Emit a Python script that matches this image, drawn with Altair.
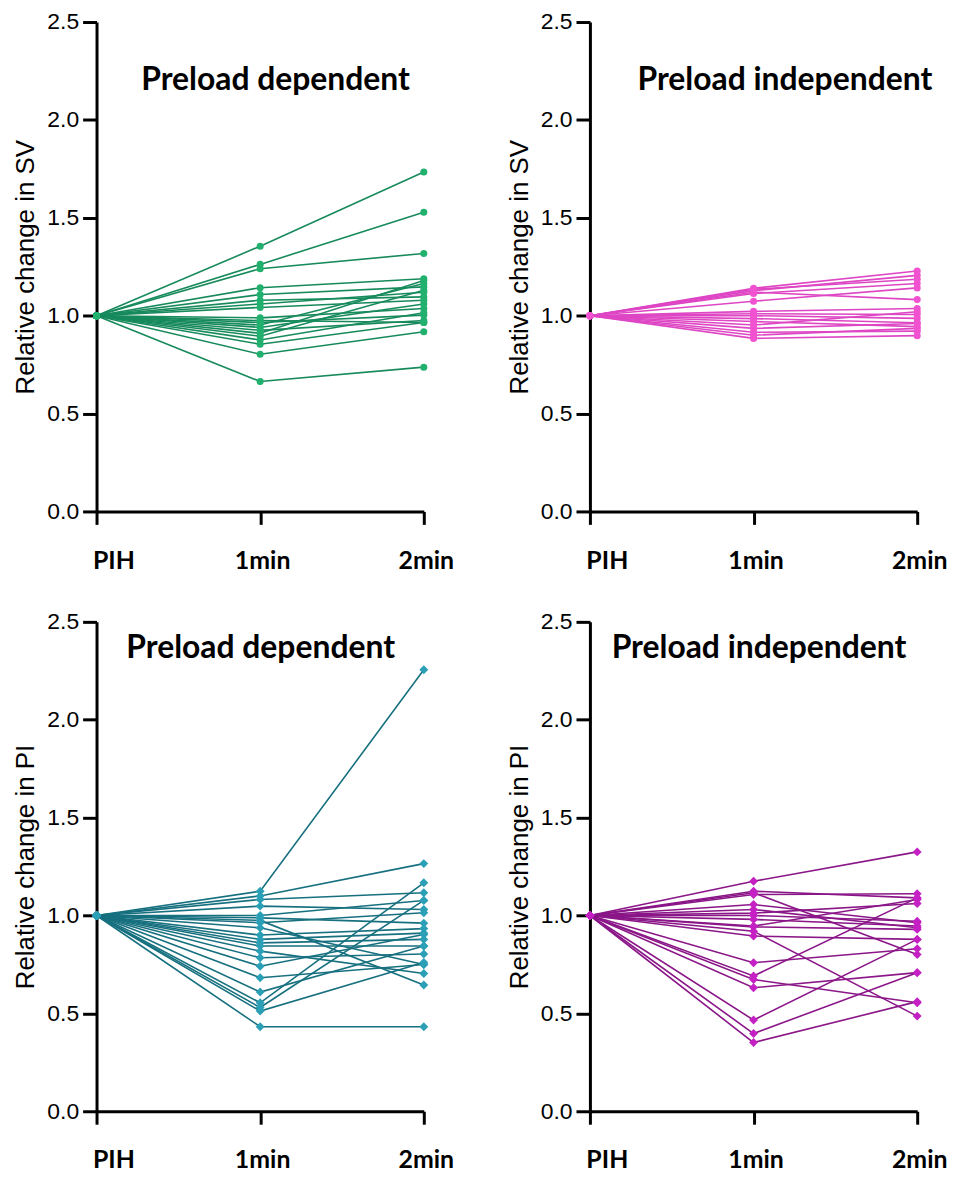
import altair as alt
import pandas as pd

times = ["PIH", "1min", "2min"]
pih_value = 1.0
y_ticks = [0.0, 0.5, 1.0, 1.5, 2.0, 2.5]

# Relative change in SV - preload dependent (1 min, 2 min)
sv_dep_1 = [1.355, 1.262, 1.240, 1.143, 1.108, 1.079, 1.060, 1.042, 0.989, 0.975,
            0.965, 0.952, 0.940, 0.925, 0.910, 0.895, 0.876, 0.854, 0.803, 0.664]
sv_dep_2 = [1.734, 1.528, 1.318, 1.189, 1.147, 1.096, 1.120, 1.079, 1.037, 0.965,
            1.003, 1.164, 1.060, 0.975, 1.180, 1.130, 1.015, 0.965, 0.918, 0.737]

# Relative change in SV - preload independent
sv_ind_1 = [1.140, 1.135, 1.128, 1.120, 1.113, 1.074, 1.022, 1.010, 1.000, 0.985,
            0.970, 0.952, 0.935, 0.915, 0.900, 0.884]
sv_ind_2 = [1.228, 1.186, 1.206, 1.082, 1.164, 1.142, 1.037, 1.006, 0.986, 0.964,
            0.944, 1.020, 0.960, 0.921, 0.935, 0.898]

# Relative change in PI - preload dependent
pi_dep_1 = [1.124, 1.100, 1.082, 1.048, 1.000, 0.988, 0.975, 0.963, 0.937, 0.900, 0.878,
            0.860, 0.844, 0.818, 0.784, 0.741, 0.682, 0.609, 0.554, 0.530, 0.512, 0.432]
pi_dep_2 = [2.255, 1.265, 1.116, 1.031, 1.077, 0.961, 0.645, 1.014, 0.750, 0.933, 0.910,
            0.878, 0.844, 0.704, 0.803, 0.903, 0.750, 0.844, 1.167, 1.077, 0.760, 0.432]

# Relative change in PI - preload independent
pi_ind_1 = [1.175, 1.124, 1.116, 1.107, 1.056, 1.031, 1.000, 0.980, 0.946, 0.942,
            0.920, 0.895, 0.759, 0.691, 0.673, 0.631, 0.466, 0.397, 0.351, 1.012]
pi_ind_2 = [1.325, 1.090, 0.801, 1.111, 0.963, 0.937, 0.971, 0.946, 1.082, 0.929,
            0.486, 0.878, 0.830, 1.090, 0.554, 0.708, 0.878, 0.708, 0.560, 1.061]


def long_df(one, two):
    rows = []
    for i, (a, b) in enumerate(zip(one, two)):
        for o, (t, v) in enumerate(zip(times, [pih_value, a, b])):
            rows.append({"s": i, "t": t, "o": o, "v": v})
    return pd.DataFrame(rows)


W, H = 329, 492


def panel(df, line_color, pt_color, shape, size, ytitle, title_text, tx, ty):
    x = alt.X(
        "t:N",
        sort=times,
        scale=alt.Scale(type="point", domain=times, padding=0),
        axis=alt.Axis(
            title=None,
            grid=False,
            domainColor="black",
            domainWidth=3,
            tickColor="black",
            tickWidth=3,
            tickSize=13,
            labelFont="Lato",
            labelFontWeight="bold",
            labelFontSize=25,
            labelColor="black",
            labelAngle=0,
            labelBaseline="top",
            labelPadding=24,
            labelOffset={"condition": {"test": "datum.value == 'PIH'", "value": 17},
                         "value": 2},
        ),
    )
    y = alt.Y(
        "v:Q",
        scale=alt.Scale(domain=[0, 2.5], nice=False, zero=True),
        axis=alt.Axis(
            values=y_ticks,
            format=".1f",
            grid=False,
            domainColor="black",
            domainWidth=3,
            tickColor="black",
            tickWidth=3,
            tickSize=14,
            title=ytitle,
            titleFont="Liberation Sans",
            titleFontWeight="normal",
            titleFontSize=26,
            titleColor="black",
            titlePadding=8,
            labelFont="Liberation Sans",
            labelFontSize=23,
            labelColor="black",
            labelPadding=4,
        ),
    )
    lines = alt.Chart(df).mark_line(color=line_color, strokeWidth=1.6).encode(
        x=x, y=y, detail="s:N", order="o:Q"
    )
    pts = alt.Chart(df).mark_point(
        shape=shape, filled=True, size=size, color=pt_color, opacity=1
    ).encode(x=x, y=y)
    ttl = alt.Chart(pd.DataFrame({"txt": [title_text]})).mark_text(
        font="Lato", fontWeight="bold", fontSize=32, color="black",
        align="center", baseline="middle"
    ).encode(x=alt.value(tx), y=alt.value(ty), text="txt:N")
    return alt.layer(lines, pts, ttl).properties(width=W, height=H)


p1 = panel(long_df(sv_dep_1, sv_dep_2), "#178a5c", "#22b06e", "circle", 50,
           "Relative change in SV", "Preload dependent", 180, 58)
p2 = panel(long_df(sv_ind_1, sv_ind_2), "#de46c4", "#f052d0", "circle", 50,
           "Relative change in SV", "Preload independent", 196, 58)
p3 = panel(long_df(pi_dep_1, pi_dep_2), "#17707f", "#2a9fb6", "diamond", 80,
           "Relative change in PI", "Preload dependent", 165, 26)
p4 = panel(long_df(pi_ind_1, pi_ind_2), "#8a1688", "#c420c4", "diamond", 80,
           "Relative change in PI", "Preload independent", 170, 26)

chart = alt.concat(
    p1, p2, p3, p4, columns=2, spacing={"row": 111, "column": 167}, bounds="flush"
).properties(
    padding={"left": 5, "top": 0, "right": 5, "bottom": 5},
    background="white",
).configure_view(stroke=None)

chart.save("out.html", embed_options={"renderer": "svg", "actions": False})
